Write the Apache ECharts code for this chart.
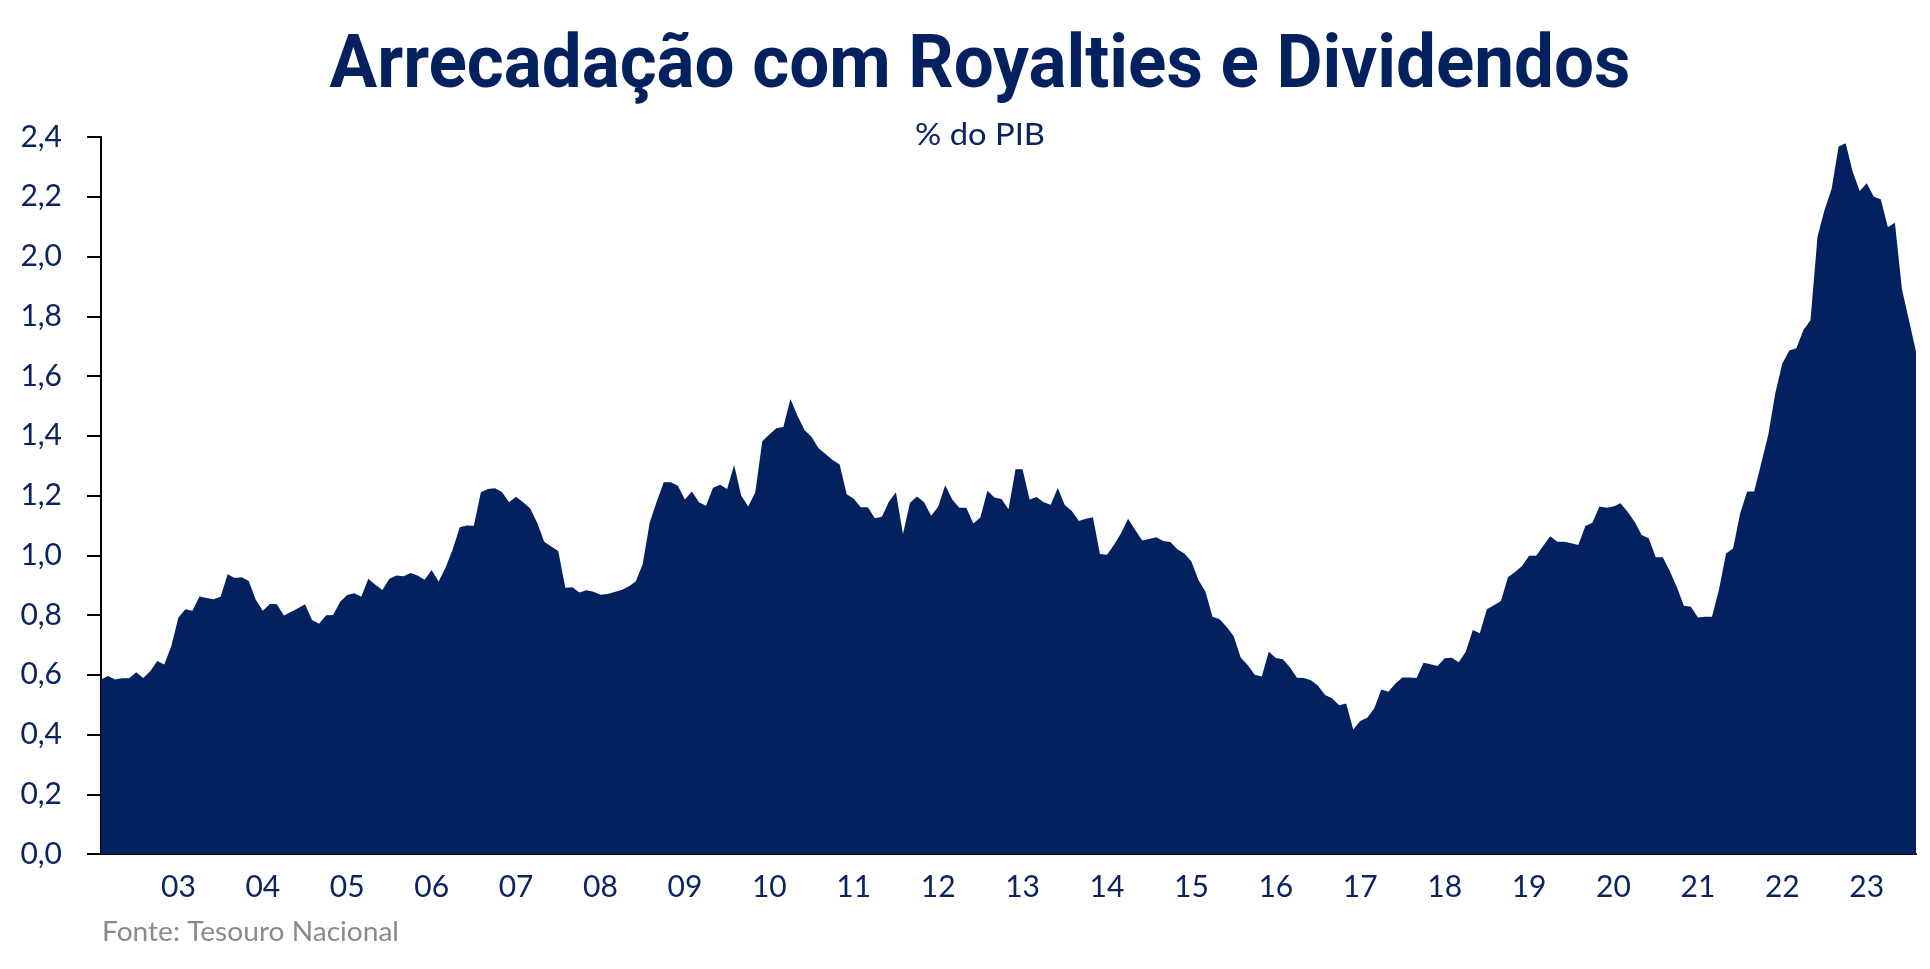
<!DOCTYPE html>
<html>
<head>
<meta charset="utf-8">
<script src="https://cdn.jsdelivr.net/npm/echarts@6/dist/echarts.min.js"></script>
<style>
html, body { margin: 0; padding: 0; background: #ffffff; }
#chart { width: 1930px; height: 969px; }
</style>
</head>
<body>
<div id="chart"></div>
<script>
// ---- data (monthly, 12-month accumulated, % of GDP) ----
const titleText = 'Arrecadação com Royalties e Dividendos';
const subtitleText = '% do PIB';
const sourceText = 'Fonte: Tesouro Nacional';

const startYear = 2002;
const startMonth = 2; // first observation: Feb 2002

const values = [
  0.584, 0.596, 0.584, 0.588, 0.588, 0.608, 0.589, 0.612, 0.646, 0.634,
  0.696, 0.792, 0.819, 0.814, 0.862, 0.857, 0.853, 0.861, 0.936, 0.924,
  0.926, 0.914, 0.851, 0.814, 0.837, 0.836, 0.798, 0.810, 0.823, 0.836,
  0.783, 0.771, 0.799, 0.800, 0.844, 0.867, 0.873, 0.861, 0.921, 0.901,
  0.884, 0.921, 0.932, 0.930, 0.941, 0.932, 0.918, 0.951, 0.912, 0.960,
  1.020, 1.094, 1.100, 1.099, 1.211, 1.222, 1.224, 1.212, 1.177, 1.196,
  1.177, 1.157, 1.109, 1.045, 1.029, 1.014, 0.891, 0.893, 0.875, 0.883,
  0.878, 0.868, 0.870, 0.877, 0.884, 0.895, 0.912, 0.970, 1.110, 1.180,
  1.244, 1.244, 1.233, 1.187, 1.213, 1.177, 1.166, 1.226, 1.236, 1.222,
  1.302, 1.200, 1.163, 1.210, 1.382, 1.404, 1.425, 1.429, 1.523, 1.467,
  1.419, 1.397, 1.358, 1.339, 1.319, 1.304, 1.204, 1.189, 1.161, 1.161,
  1.124, 1.129, 1.179, 1.211, 1.071, 1.176, 1.197, 1.177, 1.132, 1.162,
  1.234, 1.187, 1.159, 1.159, 1.106, 1.126, 1.216, 1.193, 1.188, 1.154,
  1.288, 1.288, 1.187, 1.195, 1.177, 1.169, 1.225, 1.168, 1.148, 1.115,
  1.122, 1.127, 1.004, 1.002, 1.035, 1.074, 1.122, 1.085, 1.049, 1.054,
  1.060, 1.048, 1.044, 1.020, 1.006, 0.979, 0.917, 0.878, 0.794, 0.786,
  0.761, 0.730, 0.658, 0.633, 0.600, 0.594, 0.677, 0.656, 0.652, 0.625,
  0.590, 0.589, 0.582, 0.563, 0.532, 0.521, 0.498, 0.504, 0.417, 0.445,
  0.456, 0.488, 0.551, 0.543, 0.571, 0.591, 0.591, 0.589, 0.640, 0.635,
  0.629, 0.655, 0.657, 0.642, 0.677, 0.750, 0.739, 0.819, 0.833, 0.847,
  0.926, 0.944, 0.964, 0.998, 0.998, 1.031, 1.064, 1.045, 1.045, 1.040,
  1.034, 1.098, 1.109, 1.163, 1.159, 1.163, 1.174, 1.146, 1.112, 1.068,
  1.057, 0.993, 0.993, 0.947, 0.894, 0.831, 0.828, 0.792, 0.794, 0.794,
  0.885, 1.006, 1.023, 1.140, 1.213, 1.213, 1.308, 1.403, 1.542, 1.642,
  1.685, 1.693, 1.754, 1.787, 2.066, 2.156, 2.226, 2.368, 2.379, 2.284,
  2.219, 2.245, 2.200, 2.192, 2.098, 2.113, 1.891, 1.787, 1.681
];

// month categories "YYYY-MM"
const categories = values.map(function (_, k) {
  const m = startMonth - 1 + k;
  const y = startYear + Math.floor(m / 12);
  const mm = (m % 12) + 1;
  return y + '-' + String(mm).padStart(2, '0');
});

// year tick labels shown on the x axis (at January of each year)
const yearLabels = ['03','04','05','06','07','08','09','10','11','12','13',
                    '14','15','16','17','18','19','20','21','22','23'];

// ---- styling ----
const NAVY = '#03215E';
const TEXT = '#0B2461';
const GREY = '#8a8a8a';

function measure(text, font) {
  const c = document.createElement('canvas').getContext('2d');
  c.font = font;
  return c.measureText(text).width;
}

const titleFont = 'bold 74px Roboto';
const titleScale = 1301 / measure(titleText, titleFont);
const subFont = '31px Lato';
const subScale = 130 / measure(subtitleText, subFont);
const srcFont = '27px Lato';
const srcScale = 297 / measure(sourceText, srcFont);

const chart = echarts.init(document.getElementById('chart'), null, { renderer: 'canvas' });

chart.setOption({
  animation: false,
  backgroundColor: '#ffffff',
  grid: { left: 101, right: 14, top: 137, bottom: 115, containLabel: false },
  xAxis: {
    type: 'category',
    data: categories,
    boundaryGap: false,
    axisLine: { show: true, lineStyle: { color: '#000000', width: 2 } },
    axisTick: { show: false },
    splitLine: { show: false },
    axisLabel: {
      interval: function (idx, val) {
        return val.slice(5) === '01' && yearLabels.indexOf(val.slice(2, 4)) >= 0;
      },
      formatter: function (val) { return val.slice(2, 4); },
      color: TEXT,
      fontFamily: 'Lato',
      fontSize: 30,
      margin: 18
    }
  },
  yAxis: {
    type: 'value',
    min: 0,
    max: 2.4,
    interval: 0.2,
    axisLine: { show: true, lineStyle: { color: '#000000', width: 2 } },
    axisTick: { show: true, length: 14, lineStyle: { color: '#000000', width: 2 } },
    splitLine: { show: false },
    axisLabel: {
      formatter: function (v) { return v.toFixed(1).replace('.', ','); },
      color: TEXT,
      fontFamily: 'Lato',
      fontSize: 30,
      margin: 39
    }
  },
  series: [{
    type: 'line',
    data: values,
    symbol: 'none',
    smooth: false,
    lineStyle: { width: 0, color: NAVY },
    itemStyle: { color: NAVY },
    areaStyle: { color: NAVY, opacity: 1 },
    z: 1
  }],
  graphic: [
    {
      type: 'text', x: 980, y: 68, scaleX: titleScale, z: 10,
      style: { x: 0, y: 0, text: titleText, font: titleFont, fill: NAVY,
               align: 'center', verticalAlign: 'middle' }
    },
    {
      type: 'text', x: 980, y: 135, scaleX: subScale, z: 10,
      style: { x: 0, y: 0, text: subtitleText, font: subFont, fill: TEXT,
               align: 'center', verticalAlign: 'middle' }
    },
    {
      type: 'text', x: 102, y: 932, scaleX: srcScale, z: 10,
      style: { x: 0, y: 0, text: sourceText, font: srcFont, fill: GREY,
               align: 'left', verticalAlign: 'middle' }
    }
  ]
});
</script>
</body>
</html>
